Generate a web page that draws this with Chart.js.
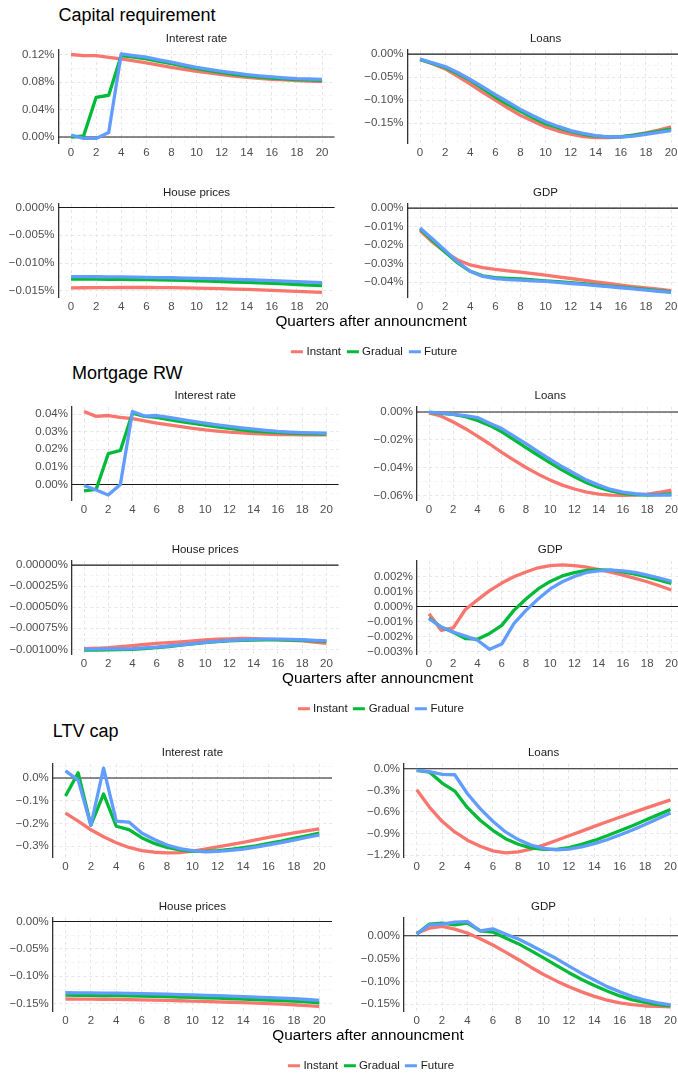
<!DOCTYPE html>
<html>
<head>
<meta charset="utf-8">
<script src="https://cdn.jsdelivr.net/npm/chart.js@4.4.0/dist/chart.umd.min.js"></script>
<style>
  html, body { margin: 0; padding: 0; background: #fff; width: 678px; height: 1075px; overflow: hidden; }
  #fig { position: relative; width: 678px; height: 1075px; overflow: hidden; font-family: "Liberation Sans", Arial, sans-serif; }
  .txt { position: absolute; white-space: nowrap; line-height: 1; }
  .legend { position: absolute; display: flex; align-items: center; white-space: nowrap; font-size: 11.5px; color: #1A1A1A; line-height: 1; }
  .legend .key { display: inline-block; width: 12px; height: 3px; margin-right: 3.5px; }
  .legend .item { display: flex; align-items: center; margin-right: 5.5px; }
  .legend .item:last-child { margin-right: 0; }
  canvas { position: absolute; }
</style>
</head>
<body>
<div id="fig"></div>
<script>
// ---------- data (percent deviation, quarters after announcement) ----------
const quarters = [0, 1, 2, 3, 4, 5, 6, 7, 8, 9, 10, 11, 12, 13, 14, 15, 16, 17, 18, 19, 20];
const xTickLabels = ["0", "2", "4", "6", "8", "10", "12", "14", "16", "18", "20"];
const scenarios = ["Instant", "Gradual", "Future"];
const sectionTitles = ["Capital requirement", "Mortgage RW", "LTV cap"];
const panelTitles = ["Interest rate", "Loans", "House prices", "GDP"];
const axisTitle = "Quarters after announcment";

// Capital requirement
const capIrInstant = [0.1205, 0.1188, 0.1188, 0.1162, 0.1140, 0.1112, 0.1082, 0.1050, 0.1018, 0.0988, 0.0960, 0.0935, 0.0912, 0.0890, 0.0870, 0.0855, 0.0843, 0.0833, 0.0824, 0.0816, 0.0810];
const capIrGradual = [0.0000, 0.0015, 0.0580, 0.0610, 0.1190, 0.1165, 0.1140, 0.1105, 0.1070, 0.1035, 0.0998, 0.0968, 0.0940, 0.0915, 0.0893, 0.0875, 0.0860, 0.0848, 0.0840, 0.0833, 0.0828];
const capIrFuture = [0.0030, -0.0020, -0.0020, 0.0065, 0.1215, 0.1190, 0.1165, 0.1128, 0.1092, 0.1055, 0.1017, 0.0988, 0.0960, 0.0935, 0.0912, 0.0893, 0.0877, 0.0864, 0.0853, 0.0847, 0.0843];

const capLoansInstant = [-0.0115, -0.021, -0.032, -0.048, -0.065, -0.083, -0.100, -0.117, -0.133, -0.146, -0.158, -0.167, -0.174, -0.179, -0.1815, -0.1815, -0.180, -0.176, -0.171, -0.165, -0.158];
const capLoansGradual = [-0.012, -0.020, -0.029, -0.042, -0.057, -0.075, -0.093, -0.109, -0.124, -0.138, -0.151, -0.160, -0.168, -0.174, -0.178, -0.1795, -0.179, -0.176, -0.172, -0.168, -0.163];
const capLoansFuture = [-0.011, -0.019, -0.027, -0.040, -0.055, -0.071, -0.088, -0.104, -0.120, -0.134, -0.147, -0.157, -0.166, -0.172, -0.177, -0.1795, -0.180, -0.178, -0.174, -0.170, -0.166];

const capHpInstant = [-0.01446, -0.01445, -0.01443, -0.01442, -0.01441, -0.01441, -0.01441, -0.01442, -0.01444, -0.01447, -0.01451, -0.01456, -0.01462, -0.01469, -0.01476, -0.01484, -0.01493, -0.01502, -0.01511, -0.01520, -0.01530];
const capHpGradual = [-0.01290, -0.01290, -0.01291, -0.01292, -0.01294, -0.01297, -0.01300, -0.01304, -0.01309, -0.01314, -0.01320, -0.01327, -0.01334, -0.01342, -0.01350, -0.01359, -0.01368, -0.01377, -0.01387, -0.01397, -0.01407];
const capHpFuture = [-0.01245, -0.01246, -0.01247, -0.01249, -0.01251, -0.01254, -0.01257, -0.01261, -0.01265, -0.01270, -0.01275, -0.01281, -0.01287, -0.01294, -0.01301, -0.01309, -0.01317, -0.01326, -0.01335, -0.01345, -0.01355];

const capGdpInstant = [-0.0121, -0.0184, -0.0237, -0.0280, -0.0307, -0.0321, -0.0331, -0.0339, -0.0346, -0.0354, -0.0362, -0.0371, -0.0380, -0.0389, -0.0398, -0.0407, -0.0416, -0.0424, -0.0431, -0.0438, -0.0445];
const capGdpGradual = [-0.0112, -0.0175, -0.0237, -0.0296, -0.0341, -0.0366, -0.0375, -0.0379, -0.0382, -0.0388, -0.0393, -0.0397, -0.0402, -0.0408, -0.0414, -0.0421, -0.0427, -0.0433, -0.0439, -0.0446, -0.0452];
const capGdpFuture = [-0.0107, -0.0166, -0.0229, -0.0291, -0.0341, -0.0369, -0.0381, -0.0386, -0.0389, -0.0393, -0.0396, -0.0401, -0.0407, -0.0412, -0.0418, -0.0424, -0.0430, -0.0436, -0.0443, -0.0449, -0.0455];

// Mortgage risk weight
const rwIrInstant = [0.0415, 0.0387, 0.0392, 0.0381, 0.0374, 0.0361, 0.0349, 0.0339, 0.0329, 0.0319, 0.0310, 0.0303, 0.0297, 0.0293, 0.0289, 0.0286, 0.0284, 0.0283, 0.0282, 0.0282, 0.0282];
const rwIrGradual = [-0.0036, -0.0028, 0.0175, 0.0193, 0.0406, 0.0387, 0.0381, 0.0369, 0.0357, 0.0347, 0.0338, 0.0328, 0.0319, 0.0311, 0.0304, 0.0299, 0.0295, 0.0292, 0.0289, 0.0288, 0.0287];
const rwIrFuture = [-0.0006, -0.0032, -0.0060, 0.0000, 0.0415, 0.0389, 0.0392, 0.0381, 0.0370, 0.0359, 0.0349, 0.0339, 0.0330, 0.0322, 0.0315, 0.0308, 0.0302, 0.0298, 0.0295, 0.0293, 0.0291];

const rwLoansInstant = [-0.0007, -0.0030, -0.0072, -0.0120, -0.0174, -0.0230, -0.0290, -0.0346, -0.0399, -0.0447, -0.0490, -0.0526, -0.0554, -0.0576, -0.0590, -0.0598, -0.0600, -0.0597, -0.0590, -0.0578, -0.0562];
const rwLoansGradual = [-0.0003, -0.0009, -0.0017, -0.0033, -0.0060, -0.0096, -0.0143, -0.0198, -0.0256, -0.0311, -0.0366, -0.0418, -0.0466, -0.0509, -0.0542, -0.0568, -0.0585, -0.0595, -0.0597, -0.0595, -0.0588];
const rwLoansFuture = [0.0000, -0.0008, -0.0017, -0.0026, -0.0040, -0.0080, -0.0119, -0.0174, -0.0227, -0.0285, -0.0340, -0.0394, -0.0442, -0.0490, -0.0526, -0.0557, -0.0576, -0.0588, -0.0595, -0.0597, -0.0597];

const rwHpInstant = [-0.000990, -0.000987, -0.000980, -0.000968, -0.000955, -0.000942, -0.000930, -0.000919, -0.000910, -0.000898, -0.000888, -0.000880, -0.000875, -0.000871, -0.000873, -0.000878, -0.000885, -0.000892, -0.000900, -0.000914, -0.000930];
const rwHpGradual = [-0.001008, -0.001008, -0.001007, -0.001004, -0.001000, -0.000991, -0.000980, -0.000966, -0.000950, -0.000935, -0.000920, -0.000909, -0.000900, -0.000894, -0.000890, -0.000887, -0.000886, -0.000889, -0.000894, -0.000900, -0.000906];
const rwHpFuture = [-0.000996, -0.000996, -0.000995, -0.000993, -0.000990, -0.000983, -0.000973, -0.000960, -0.000946, -0.000932, -0.000918, -0.000905, -0.000894, -0.000887, -0.000882, -0.000879, -0.000878, -0.000881, -0.000886, -0.000892, -0.000898];

const rwGdpInstant = [-0.00048, -0.00159, -0.00143, -0.00020, 0.00044, 0.00106, 0.00156, 0.00198, 0.00230, 0.00258, 0.00273, 0.00277, 0.00273, 0.00262, 0.00246, 0.00229, 0.00209, 0.00187, 0.00165, 0.00138, 0.00110];
const rwGdpGradual = [-0.00077, -0.00137, -0.00172, -0.00214, -0.00218, -0.00180, -0.00126, -0.00026, 0.00050, 0.00117, 0.00167, 0.00204, 0.00226, 0.00240, 0.00244, 0.00242, 0.00231, 0.00216, 0.00198, 0.00176, 0.00154];
const rwGdpFuture = [-0.00081, -0.00137, -0.00170, -0.00198, -0.00225, -0.00286, -0.00251, -0.00115, -0.00026, 0.00050, 0.00117, 0.00165, 0.00200, 0.00227, 0.00238, 0.00242, 0.00238, 0.00227, 0.00209, 0.00190, 0.00167];

// Loan-to-value cap
const ltvIrInstant = [-0.155, -0.190, -0.228, -0.259, -0.285, -0.306, -0.320, -0.327, -0.330, -0.329, -0.322, -0.313, -0.303, -0.293, -0.283, -0.272, -0.262, -0.252, -0.242, -0.233, -0.224];
const ltvIrGradual = [-0.079, 0.023, -0.208, -0.070, -0.2125, -0.227, -0.263, -0.288, -0.306, -0.317, -0.323, -0.323, -0.320, -0.314, -0.307, -0.299, -0.288, -0.278, -0.266, -0.255, -0.243];
const ltvIrFuture = [0.032, -0.009, -0.208, 0.044, -0.190, -0.194, -0.242, -0.271, -0.295, -0.311, -0.320, -0.325, -0.323, -0.319, -0.313, -0.304, -0.295, -0.285, -0.274, -0.262, -0.250];

const ltvLoansInstant = [-0.291, -0.531, -0.729, -0.877, -0.992, -1.075, -1.140, -1.168, -1.155, -1.115, -1.060, -0.995, -0.930, -0.865, -0.800, -0.735, -0.672, -0.610, -0.550, -0.490, -0.432];
const ltvLoansGradual = [-0.023, -0.046, -0.198, -0.309, -0.540, -0.715, -0.854, -0.970, -1.048, -1.098, -1.118, -1.118, -1.095, -1.050, -0.995, -0.930, -0.860, -0.790, -0.715, -0.640, -0.565];
const ltvLoansFuture = [-0.023, -0.040, -0.078, -0.083, -0.346, -0.554, -0.729, -0.877, -0.983, -1.060, -1.105, -1.125, -1.115, -1.085, -1.040, -0.985, -0.920, -0.850, -0.775, -0.695, -0.615];

const ltvHpInstant = [-0.1420, -0.1421, -0.1423, -0.1425, -0.1428, -0.1432, -0.1436, -0.1441, -0.1446, -0.1452, -0.1458, -0.1465, -0.1472, -0.1480, -0.1488, -0.1496, -0.1505, -0.1515, -0.1525, -0.1540, -0.1555];
const ltvHpGradual = [-0.1350, -0.1351, -0.1353, -0.1356, -0.1359, -0.1363, -0.1367, -0.1372, -0.1377, -0.1383, -0.1390, -0.1397, -0.1404, -0.1412, -0.1420, -0.1429, -0.1438, -0.1448, -0.1458, -0.1474, -0.1490];
const ltvHpFuture = [-0.1305, -0.1306, -0.1308, -0.1311, -0.1314, -0.1318, -0.1322, -0.1327, -0.1332, -0.1338, -0.1345, -0.1352, -0.1359, -0.1367, -0.1375, -0.1384, -0.1393, -0.1403, -0.1413, -0.1429, -0.1445];

const ltvGdpInstant = [0.0058, 0.0167, 0.0203, 0.0145, 0.0058, -0.0065, -0.0203, -0.0360, -0.0520, -0.0690, -0.0850, -0.0990, -0.1120, -0.1230, -0.1330, -0.1410, -0.1470, -0.1510, -0.1540, -0.1550, -0.1560];
const ltvGdpGradual = [0.0036, 0.0254, 0.0275, 0.0240, 0.0275, 0.0109, 0.0080, -0.0050, -0.0174, -0.0326, -0.0486, -0.0650, -0.0810, -0.0960, -0.1090, -0.1210, -0.1320, -0.1405, -0.1460, -0.1510, -0.1540];
const ltvGdpFuture = [0.0036, 0.0240, 0.0254, 0.0297, 0.0310, 0.0109, 0.0152, 0.0036, -0.0072, -0.0210, -0.0355, -0.0500, -0.0667, -0.0826, -0.0970, -0.1116, -0.1230, -0.1333, -0.1410, -0.1470, -0.1515];

// y-axis tick values (percent) per panel
const capIrTicks = [0, 0.04, 0.08, 0.12];
const capLoansTicks = [0, -0.05, -0.10, -0.15];
const capHpTicks = [0, -0.005, -0.010, -0.015];
const capGdpTicks = [0, -0.01, -0.02, -0.03, -0.04];
const rwIrTicks = [0, 0.01, 0.02, 0.03, 0.04];
const rwLoansTicks = [0, -0.02, -0.04, -0.06];
const rwHpTicks = [0, -0.00025, -0.00050, -0.00075, -0.00100];
const rwGdpTicks = [0.002, 0.001, 0, -0.001, -0.002, -0.003];
const ltvIrTicks = [0, -0.1, -0.2, -0.3];
const ltvLoansTicks = [0, -0.3, -0.6, -0.9, -1.2];
const ltvHpTicks = [0, -0.05, -0.10, -0.15];
const ltvGdpTicks = [0, -0.05, -0.10, -0.15];

// ---------- styling ----------
const seriesColors = { Instant: "#F8766D", Gradual: "#00BA38", Future: "#619CFF" };
const FONT = "'Liberation Sans', Arial, sans-serif";
Chart.defaults.font.family = FONT;

const PLOT_H = 94;   // panel height in px
const LBL = 70;      // room for y tick labels
const PAD_T = 10, PAD_R = 12, X_AX = 22;

// one entry per section: geometry of the left/right columns and the two rows
const sections = [
  { title: sectionTitles[0], titleY: 15,  leftX: 58.5, rightX: 407.5, unit: 12.55, rowTop: [49, 203],
    panels: [
      { series: [capIrInstant, capIrGradual, capIrFuture], ticks: capIrTicks, dec: 2, min: -0.0087, max: 0.1272 },
      { series: [capLoansInstant, capLoansGradual, capLoansFuture], ticks: capLoansTicks, dec: 2, min: -0.193, max: 0.0092 },
      { series: [capHpInstant, capHpGradual, capHpFuture], ticks: capHpTicks, dec: 3, min: -0.01612, max: 0.00066 },
      { series: [capGdpInstant, capGdpGradual, capGdpFuture], ticks: capGdpTicks, dec: 2, min: -0.048, max: 0.0023 } ] },
  { title: sectionTitles[1], titleY: 373, leftX: 71.9, rightX: 416.9, unit: 12.12, rowTop: [406, 560],
    panels: [
      { series: [rwIrInstant, rwIrGradual, rwIrFuture], ticks: rwIrTicks, dec: 2, min: -0.00885, max: 0.0441 },
      { series: [rwLoansInstant, rwLoansGradual, rwLoansFuture], ticks: rwLoansTicks, dec: 2, min: -0.0633, max: 0.0037 },
      { series: [rwHpInstant, rwHpGradual, rwHpFuture], ticks: rwHpTicks, dec: 5, min: -0.001055, max: 0.0000506 },
      { series: [rwGdpInstant, rwGdpGradual, rwGdpFuture], ticks: rwGdpTicks, dec: 3, min: -0.00317, max: 0.00304 } ] },
  { title: sectionTitles[2], titleY: 730.5, leftX: 52.8, rightX: 404, unit: 12.69, rowTop: [763, 917],
    panels: [
      { series: [ltvIrInstant, ltvIrGradual, ltvIrFuture], ticks: ltvIrTicks, dec: 1, min: -0.348, max: 0.0624 },
      { series: [ltvLoansInstant, ltvLoansGradual, ltvLoansFuture], ticks: ltvLoansTicks, dec: 1, min: -1.225, max: 0.068 },
      { series: [ltvHpInstant, ltvHpGradual, ltvHpFuture], ticks: ltvHpTicks, dec: 2, min: -0.164, max: 0.0067 },
      { series: [ltvGdpInstant, ltvGdpGradual, ltvGdpFuture], ticks: ltvGdpTicks, dec: 2, min: -0.165, max: 0.0391 } ] }
];

const fig = document.getElementById("fig");

function addText(str, x, y, size, color, anchor) {
  const d = document.createElement("div");
  d.className = "txt";
  d.textContent = str;
  d.style.fontSize = size + "px";
  d.style.color = color;
  d.style.left = x + "px";
  d.style.top = y + "px";
  d.style.transform = anchor === "center" ? "translate(-50%, -50%)" : "translate(0, -50%)";
  fig.appendChild(d);
}

function fmtPct(v, dec) {
  const s = Math.abs(v).toFixed(dec) + "%";
  return v < -1e-12 ? "\u2212" + s : s;
}

// midpoints between major ticks (and one step beyond each end) for the minor grid
function minorTicks(major, min, max) {
  const sorted = major.slice().sort((a, b) => a - b);
  const step = sorted[1] - sorted[0];
  const out = [];
  for (let v = sorted[0] - step / 2; v <= sorted[sorted.length - 1] + step; v += step) {
    if (v >= min && v <= max) out.push(v);
  }
  return out;
}

// horizontal reference line at zero
const zeroLine = {
  id: "zeroLine",
  beforeDatasetsDraw(chart) {
    const { ctx, chartArea, scales } = chart;
    const py = scales.y.getPixelForValue(0);
    ctx.save();
    ctx.strokeStyle = "#1A1A1A";
    ctx.lineWidth = 1.1;
    ctx.beginPath();
    ctx.moveTo(chartArea.left, py);
    ctx.lineTo(chartArea.right, py);
    ctx.stroke();
    ctx.restore();
  }
};

function makePanel(p, plotLeft, plotTop, unit, title) {
  const plotW = 22 * unit;
  const canvasLeft = Math.floor(plotLeft) - LBL;
  const yWidth = plotLeft - canvasLeft;
  const W = Math.ceil(yWidth + plotW + PAD_R);
  const H = PAD_T + PLOT_H + X_AX;
  const cv = document.createElement("canvas");
  cv.width = W; cv.height = H;
  cv.style.width = W + "px"; cv.style.height = H + "px";
  cv.style.left = canvasLeft + "px";
  cv.style.top = (plotTop - PAD_T) + "px";
  fig.appendChild(cv);

  const xMajor = xTickLabels.map(Number);
  const yMinor = minorTicks(p.ticks, p.min, p.max);
  const isMajorY = v => p.ticks.some(t => Math.abs(t - v) < 1e-9);
  const gridMajor = "#E6E6E6", gridMinor = "#EFEFEF";

  const datasets = scenarios.map((name, k) => ({
    label: name,
    data: quarters.map((q, i) => ({ x: q, y: p.series[k][i] })),
    borderColor: seriesColors[name],
    borderWidth: 3.3,
    pointRadius: 0,
    tension: 0,
    fill: false,
    order: 3 - k
  }));

  new Chart(cv, {
    type: "line",
    data: { datasets },
    options: {
      responsive: false,
      animation: false,
      devicePixelRatio: 1,
      layout: { padding: { left: 0, right: W - yWidth - plotW, top: PAD_T, bottom: 0 } },
      plugins: { legend: { display: false }, tooltip: { enabled: false } },
      elements: { line: { borderCapStyle: "butt", borderJoinStyle: "round" } },
      scales: {
        x: {
          type: "linear", min: -1, max: 21,
          afterBuildTicks: s => { s.ticks = quarters.map(v => ({ value: v })); },
          afterFit: s => { s.height = X_AX; },
          ticks: {
            autoSkip: false, maxRotation: 0, minRotation: 0, padding: 3,
            color: "#4D4D4D", font: { size: 11.5, family: FONT },
            callback: v => (xMajor.includes(v) ? String(v) : "")
          },
          grid: {
            drawTicks: false,
            color: c => (xMajor.includes(c.tick.value) ? gridMajor : gridMinor),
            lineWidth: c => (xMajor.includes(c.tick.value) ? 1 : 0.7)
          },
          border: { display: false, dash: [3, 3] }
        },
        y: {
          type: "linear", min: p.min, max: p.max,
          afterBuildTicks: s => { s.ticks = p.ticks.concat(yMinor).map(v => ({ value: v })); },
          afterFit: s => { s.width = yWidth; },
          ticks: {
            autoSkip: false, padding: 4,
            color: "#4D4D4D", font: { size: 11.5, family: FONT },
            callback: v => (isMajorY(v) ? fmtPct(v, p.dec) : "")
          },
          grid: {
            drawTicks: false,
            color: c => (isMajorY(c.tick.value) ? gridMajor : gridMinor),
            lineWidth: c => (isMajorY(c.tick.value) ? 1 : 0.7)
          },
          border: { display: true, color: "#333333", width: 1.3, dash: [3, 3] }
        }
      }
    },
    plugins: [zeroLine]
  });

  addText(title, plotLeft + plotW / 2, plotTop - 10, 11.5, "#1A1A1A", "center");
}

function addLegend(cx, cy) {
  const lg = document.createElement("div");
  lg.className = "legend";
  scenarios.forEach(name => {
    const it = document.createElement("span");
    it.className = "item";
    const k = document.createElement("span");
    k.className = "key";
    k.style.background = seriesColors[name];
    const t = document.createElement("span");
    t.textContent = name;
    it.appendChild(k); it.appendChild(t);
    lg.appendChild(it);
  });
  lg.style.left = cx + "px";
  lg.style.top = cy + "px";
  lg.style.transform = "translate(-50%, -50%)";
  fig.appendChild(lg);
}

sections.forEach(sec => {
  addText(sec.title, sec.leftX, sec.titleY, 18, "#000", "left");
  const cols = [sec.leftX, sec.rightX];
  sec.panels.forEach((p, i) => {
    const col = i % 2, row = Math.floor(i / 2);
    makePanel(p, cols[col], sec.rowTop[row], sec.unit, panelTitles[i]);
  });
  const bottom = sec.rowTop[1] + PLOT_H;
  const cx = (sec.leftX + sec.rightX + 22 * sec.unit) / 2;
  addText(axisTitle, cx, bottom + 24, 15.3, "#000", "center");
  addLegend(cx + 3, bottom + 55);
});
</script>
</body>
</html>
